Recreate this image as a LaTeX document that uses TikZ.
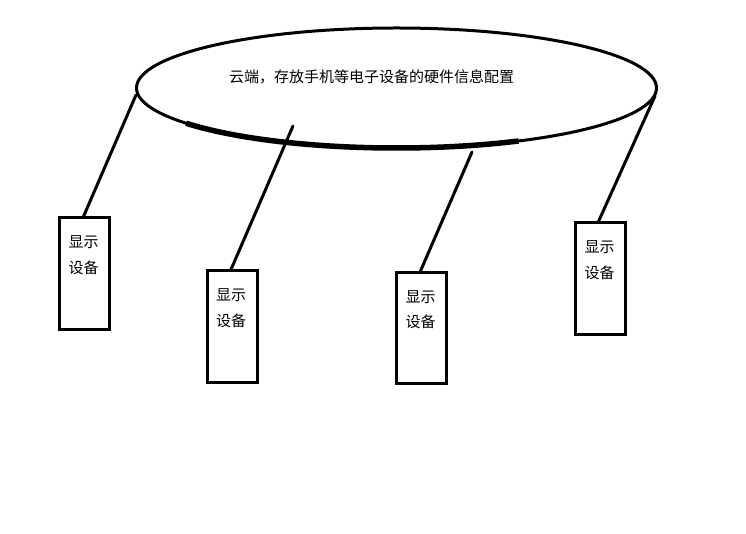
\documentclass[tikz,border=0pt]{standalone}
\usepackage{fontspec}
\newfontfamily\cjk{Noto Sans CJK SC}
\begin{document}
\begin{tikzpicture}[x=1pt,y=-1pt,
  devbox/.style={draw=black,line width=3pt,minimum width=50pt,minimum height=111pt,inner sep=0pt},
  devtext/.style={font=\cjk\fontsize{15}{15}\selectfont,inner sep=0pt},
  link/.style={line width=3pt,line cap=round}]
\useasboundingbox (0,0) rectangle (746,534);
\fill[white] (0,0) rectangle (746,534);
% cloud
\draw[line width=3pt] (396.5,88) ellipse [x radius=260, y radius=60];
\draw[line width=5.5pt] (396.5,88) ++(62:260 and 60) arc [start angle=62, end angle=144, x radius=260, y radius=60];
\node[font=\cjk\fontsize{15}{15}\selectfont,inner sep=0pt] (cloud) at (371.5,76.5) {云端，存放手机等电子设备的硬件信息配置};
% devices
\node[devbox] (d1) at (84.5,273.5) {};
\node[devbox] (d2) at (232,326.5) {};
\node[devbox] (d3) at (421.5,328) {};
\node[devbox] (d4) at (600.5,278.5) {};
\foreach \d in {d1,d2,d3,d4}{
  \node[devtext,anchor=west] (\d a) at ([xshift=10.5pt,yshift=-26pt]\d.north west) {显示};
  \node[devtext,anchor=west] (\d b) at ([xshift=10.5pt,yshift=-51pt]\d.north west) {设备};
}
% connection points on cloud
\coordinate (c1) at (136,95);
\coordinate (c2) at (293,126);
\coordinate (c3) at (472,152);
\coordinate (c4) at (655,96);
\draw[link] (c1) -- ([xshift=-1pt]d1.north);
\draw[link] (c2) -- ([xshift=-1pt]d2.north);
\draw[link] (c3) -- ([xshift=-1pt]d3.north);
\draw[link] (c4) -- ([xshift=-2pt]d4.north);
\end{tikzpicture}
\end{document}
